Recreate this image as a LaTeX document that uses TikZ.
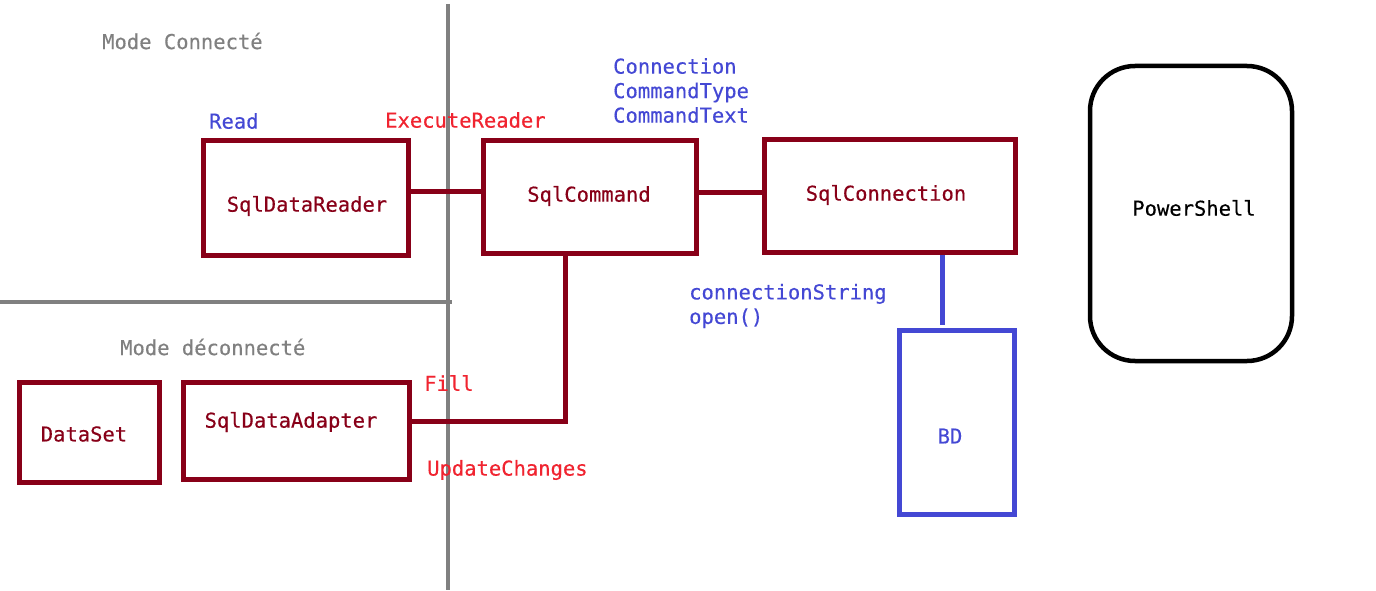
\documentclass[tikz,border=0pt]{standalone}
\usepackage{fontspec}
\setmainfont{DejaVu Sans Mono}[FakeBold=0.4]
\definecolor{dred}{RGB}{136,0,24}
\definecolor{lred}{RGB}{240,36,48}
\definecolor{dblue}{RGB}{68,72,212}
\definecolor{lgray}{RGB}{128,128,128}
\begin{document}
\begin{tikzpicture}[x=1pt,y=-1pt,
  every node/.style={font=\fontsize{20.5}{24.5}\selectfont, inner sep=0pt},
  box/.style={draw=dred, line width=5pt, rectangle, inner sep=0pt},
  bluebox/.style={draw=dblue, line width=5pt, rectangle, inner sep=0pt},
  boxtext/.style={text=dred},
  lbl/.style={anchor=west, align=left},
  wire/.style={draw=dred, line width=5pt},
  sep/.style={draw=lgray, line width=4pt}]
\useasboundingbox (0,0) rectangle (1376,591);
% separators
\coordinate (vt) at (448,4);
\coordinate (vb) at (448,590);
\coordinate (hl) at (0,302);
\coordinate (hr) at (452,302);
\draw[sep] (vt) -- (vb);
\draw[sep] (hl) -- (hr);
\node[lbl, text=lgray] (mc) at (102,41) {Mode Connecté};
\node[lbl, text=lgray] (md) at (120,347) {Mode déconnecté};
% boxes
\node[box, minimum width=205pt, minimum height=115pt] (reader) at (306,198) {};
\node[boxtext] (readert) at (307,206) {SqlDataReader};
\node[box, minimum width=213pt, minimum height=113pt] (command) at (590,197) {};
\node[boxtext] (commandt) at (589,196) {SqlCommand};
\node[box, minimum width=251pt, minimum height=113pt] (connection) at (890,196) {};
\node[boxtext] (connectiont) at (886,195) {SqlConnection};
\node[box, minimum width=226pt, minimum height=97pt] (adapter) at (296.5,431) {};
\node[boxtext] (adaptert) at (291,422) {SqlDataAdapter};
\node[box, minimum width=140pt, minimum height=100pt] (dataset) at (89.5,432.5) {};
\node[boxtext] (datasett) at (84,434) {DataSet};
\node[bluebox, minimum width=115pt, minimum height=184pt] (bd) at (957,422.5) {};
\node[text=dblue] (bdt) at (950,436) {BD};
\node[draw=black, line width=4.5pt, rounded corners=45pt, minimum width=202pt, minimum height=295pt] (ps) at (1191,213.5) {};
\node[text=black] (pst) at (1194,208) {PowerShell};
% labels
\node[lbl, text=dblue] (read) at (209,121) {Read};
\node[lbl, text=lred] (exec) at (385,120) {ExecuteReader};
\node[lbl, text=dblue] (props) at (613,90.5) {Connection\\CommandType\\CommandText};
\node[lbl, text=dblue] (cs) at (689,306) {connectionString\\open()};
\node[lbl, text=lred] (fill) at (424,383) {Fill};
\node[lbl, text=lred] (upd) at (427,470) {UpdateChanges};
% connectors
\coordinate (r1) at (0,191);
\coordinate (r2) at (0,192);
\coordinate (k) at (565,421);
\coordinate (b1) at (942,0);
\draw[wire] (reader.east |- r1) -- (command.west |- r1);
\draw[wire] (command.east |- r2) -- (connection.west |- r2);
\draw[wire] (command.south -| k) -- (k) -- (adapter.east |- k);
\draw[draw=dblue, line width=5pt] (connection.south -| b1) -- ([yshift=3pt]bd.north -| b1);
\end{tikzpicture}
\end{document}
